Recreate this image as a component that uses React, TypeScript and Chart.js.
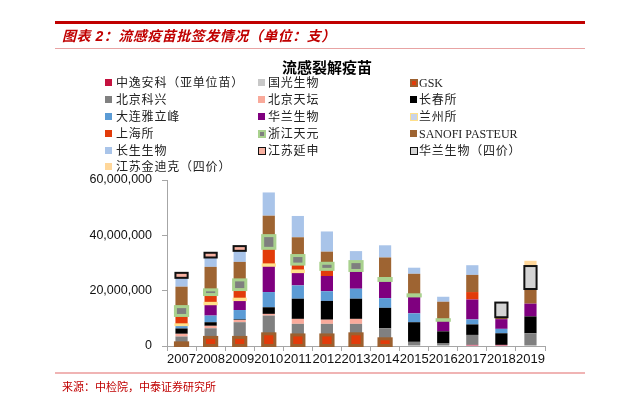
import React, { useEffect, useRef } from "react";
import { Chart, registerables } from "chart.js";

Chart.register(...registerables);

// ---------- DATA (单位：支) ----------
const years = ["2007", "2008", "2009", "2010", "2011", "2012", "2013", "2014", "2015", "2016", "2017", "2018", "2019"];

const zhongyiAnke = [null, null, null, null, null, null, null, null, null, null, 400000, 400000, null];
const guoguang = [null, null, null, null, null, null, null, null, null, null, null, null, null];
const gsk = [1130000, 3100000, 3100000, 4400000, 4000000, 4000000, 4400000, 2600000, null, null, null, null, null];
const beijingKexing = [2300000, 3300000, 5500000, 6600000, 4000000, 4000000, 3600000, 3800000, 1500000, 900000, 3600000, null, 4600000];
const beijingTiantan = [980000, 900000, 800000, 600000, 1800000, 1500000, 1800000, null, null, null, null, null, null];
const changchun = [1930000, 1300000, 200000, 2400000, 7300000, 6800000, 7300000, 7400000, 7100000, 4400000, 3800000, 4200000, 6100000];
const dalianYalifeng = [1200000, 2400000, 3400000, 5500000, 4800000, 3500000, 3600000, 3500000, 3200000, null, 1800000, 1600000, null];
const hualan = [null, 4100000, 3600000, 9500000, 4800000, 5500000, 6600000, 6400000, 6300000, 4000000, 7200000, 3500000, 4600000];
const lanzhou = [300000, 500000, 500000, 500000, 600000, null, null, null, null, null, null, null, null];
const shanghai = [3200000, 3000000, 3300000, 5800000, 2300000, 2400000, null, null, null, null, 2700000, null, null];
const zhejiangTianyuan = [3200000, 1700000, 3500000, 4600000, 3100000, 2200000, 3200000, 700000, 400000, 200000, null, null, null];
const sanofi = [7200000, 8300000, 6500000, 7200000, 6600000, 4200000, null, 7600000, 7600000, 6500000, 6200000, 700000, 5300000];
const changsheng = [3200000, 3400000, 4000000, 8400000, 7700000, 7300000, 3800000, 4400000, 2200000, 1800000, 3500000, null, null];
const jiangsuYanshen = [1800000, 1700000, 1700000, null, null, null, null, null, null, null, null, null, null];
const hualanQuad = [null, null, null, null, null, null, null, null, null, null, null, 5300000, 8300000];
const jindikeQuad = [null, null, null, null, null, null, null, null, null, null, null, null, 1900000];

const yTickValues = [0, 20000000, 40000000, 60000000];

const headerTitle = "图表 2：流感疫苗批签发情况（单位：支）";
const chartTitle = "流感裂解疫苗";
const sourceText = "来源：中检院，中泰证券研究所";

type Series = {
  label: string;
  data: (number | null)[];
  fill: string;
  stroke?: string;
  strokeWidth?: number;
};

const series: Series[] = [
  { label: "中逸安科（亚单位苗）", data: zhongyiAnke, fill: "#C4123F" },
  { label: "国光生物", data: guoguang, fill: "#C8C8C8" },
  { label: "GSK", data: gsk, fill: "#E23B0A", stroke: "#9C602F", strokeWidth: 3 },
  { label: "北京科兴", data: beijingKexing, fill: "#808080" },
  { label: "北京天坛", data: beijingTiantan, fill: "#F9AA9B" },
  { label: "长春所", data: changchun, fill: "#000000" },
  { label: "大连雅立峰", data: dalianYalifeng, fill: "#5B9BD5" },
  { label: "华兰生物", data: hualan, fill: "#7F007F" },
  { label: "兰州所", data: lanzhou, fill: "#C9D3E8", stroke: "#FFE08A", strokeWidth: 2 },
  { label: "上海所", data: shanghai, fill: "#E23B0A" },
  { label: "浙江天元", data: zhejiangTianyuan, fill: "#7F7F7F", stroke: "#A9D18E", strokeWidth: 3 },
  { label: "SANOFI PASTEUR", data: sanofi, fill: "#9E6432" },
  { label: "长生生物", data: changsheng, fill: "#A9C4E9" },
  { label: "江苏延申", data: jiangsuYanshen, fill: "#F8B1A1", stroke: "#111111", strokeWidth: 2 },
  { label: "华兰生物（四价）", data: hualanQuad, fill: "#D4D4D4", stroke: "#111111", strokeWidth: 2 },
  { label: "江苏金迪克（四价）", data: jindikeQuad, fill: "#FFD79A" },
];

const excelBorderPlugin = {
  id: "excelBorder",
  afterDatasetsDraw(chart: any) {
    const ctx = chart.ctx;
    chart.data.datasets.forEach((ds: any, i: number) => {
      const s = series[i];
      if (!s || !s.stroke) return;
      const meta = chart.getDatasetMeta(i);
      meta.data.forEach((el: any, j: number) => {
        if (ds.data[j] == null) return;
        const p = el.getProps(["x", "y", "base", "width"], true);
        ctx.save();
        ctx.strokeStyle = s.stroke;
        ctx.lineWidth = s.strokeWidth;
        ctx.strokeRect(p.x - p.width / 2, Math.min(p.y, p.base), p.width, Math.abs(p.base - p.y));
        ctx.restore();
      });
    });
  },
};

const legendSwatchLeft = [105, 258, 410];
const legendTextLeft = [116, 268, 419];

function Swatch({ s }: { s: Series }) {
  if (s.stroke) {
    const bw = s.label === "GSK" ? 2.5 : s.strokeWidth === 3 ? 2 : 1.5;
    return (
      <span
        style={{
          display: "inline-block",
          width: 8,
          height: 8,
          boxSizing: "border-box",
          border: `${bw}px solid ${s.stroke}`,
          background: s.fill,
        }}
      />
    );
  }
  return <span style={{ display: "inline-block", width: 7, height: 7, background: s.fill }} />;
}

export default function App() {
  const canvasRef = useRef<HTMLCanvasElement | null>(null);

  useEffect(() => {
    const canvas = canvasRef.current;
    if (!canvas) return;
    const chart = new Chart(canvas, {
      type: "bar",
      data: {
        labels: years,
        datasets: series.map((s) => ({
          label: s.label,
          data: s.data,
          backgroundColor: s.fill,
          borderWidth: 0,
          categoryPercentage: 1,
          barPercentage: 0.42,
        })),
      },
      options: {
        animation: false,
        responsive: false,
        devicePixelRatio: 1,
        layout: { padding: { left: 0, right: 96, top: 180, bottom: 27 } },
        plugins: {
          legend: { display: false },
          title: { display: false },
          tooltip: { enabled: false },
        },
        scales: {
          x: {
            stacked: true,
            grid: {
              display: true,
              drawOnChartArea: false,
              drawTicks: true,
              tickLength: 5,
              color: "#A6A6A6",
              offset: true,
            },
            border: { display: true, color: "#A6A6A6", width: 1 },
            ticks: {
              color: "#111111",
              padding: 1,
              maxRotation: 0,
              autoSkip: false,
              font: { family: "'Liberation Sans', Arial, sans-serif", size: 13 },
            },
            afterFit: (scale: any) => {
              scale.height = 24;
            },
          },
          y: {
            stacked: true,
            min: 0,
            max: 60000000,
            afterBuildTicks: (scale: any) => {
              scale.ticks = yTickValues.map((v) => ({ value: v }));
            },
            grid: {
              display: true,
              drawOnChartArea: false,
              drawTicks: true,
              tickLength: 5,
              color: "#A6A6A6",
            },
            border: { display: true, color: "#A6A6A6", width: 1 },
            ticks: {
              color: "#111111",
              padding: 10,
              font: { family: "'Liberation Sans', Arial, sans-serif", size: 12.5 },
              callback: (v: any) => Number(v).toLocaleString("en-US"),
            },
            afterFit: (scale: any) => {
              scale.width = 167;
            },
          },
        },
      },
      plugins: [excelBorderPlugin],
    });
    return () => chart.destroy();
  }, []);

  const cjkSerif = "'Liberation Serif', 'Noto Sans CJK SC', serif";
  const hasCjk = (t: string) => /[\u3000-\u9fff\uff00-\uffef]/.test(t);

  return (
    <div style={{ position: "absolute", left: 0, top: 0, width: 641, height: 397, background: "#fff", overflow: "hidden" }}>
      <canvas ref={canvasRef} width={641} height={397} style={{ position: "absolute", left: 0, top: 0, width: 641, height: 397 }} />
      <div style={{ position: "absolute", left: 55, top: 21, width: 530, height: 3, background: "#C00000" }} />
      <div
        style={{
          position: "absolute",
          left: 62,
          top: 27,
          lineHeight: "18px",
          fontSize: 14,
          fontWeight: 700,
          fontStyle: "italic",
          letterSpacing: "0.5px",
          color: "#C00000",
          fontFamily: "'Liberation Sans', 'Noto Sans CJK SC', sans-serif",
          whiteSpace: "nowrap",
        }}
      >
        {headerTitle}
      </div>
      <div style={{ position: "absolute", left: 55, top: 48, width: 530, height: 1, background: "#E8A3A3" }} />
      <div
        style={{
          position: "absolute",
          left: 327,
          top: 58,
          transform: "translateX(-50%)",
          lineHeight: "18px",
          fontSize: 15,
          fontWeight: 700,
          color: "#000",
          fontFamily: "'Noto Sans CJK SC', sans-serif",
          whiteSpace: "nowrap",
        }}
      >
        {chartTitle}
      </div>
      {series.map((s, i) => {
        const row = Math.floor(i / 3);
        const col = i % 3;
        const cy = 83.3 + row * 16.8;
        return (
          <div key={s.label}>
            <div style={{ position: "absolute", left: legendSwatchLeft[col], top: cy - 4, height: 8, lineHeight: 0 }}>
              <Swatch s={s} />
            </div>
            <div
              style={{
                position: "absolute",
                left: legendTextLeft[col],
                top: cy - 8,
                lineHeight: "16px",
                fontSize: 12,
                letterSpacing: hasCjk(s.label) ? "0.8px" : "0px",
                color: "#222",
                fontFamily: cjkSerif,
                whiteSpace: "nowrap",
              }}
            >
              {s.label}
            </div>
          </div>
        );
      })}
      <div style={{ position: "absolute", left: 55, top: 372, width: 530, height: 2, background: "#F0B4B4" }} />
      <div
        style={{
          position: "absolute",
          left: 62,
          top: 380,
          lineHeight: "14px",
          fontSize: 11,
          color: "#C00000",
          fontFamily: cjkSerif,
          whiteSpace: "nowrap",
        }}
      >
        {sourceText}
      </div>
    </div>
  );
}
